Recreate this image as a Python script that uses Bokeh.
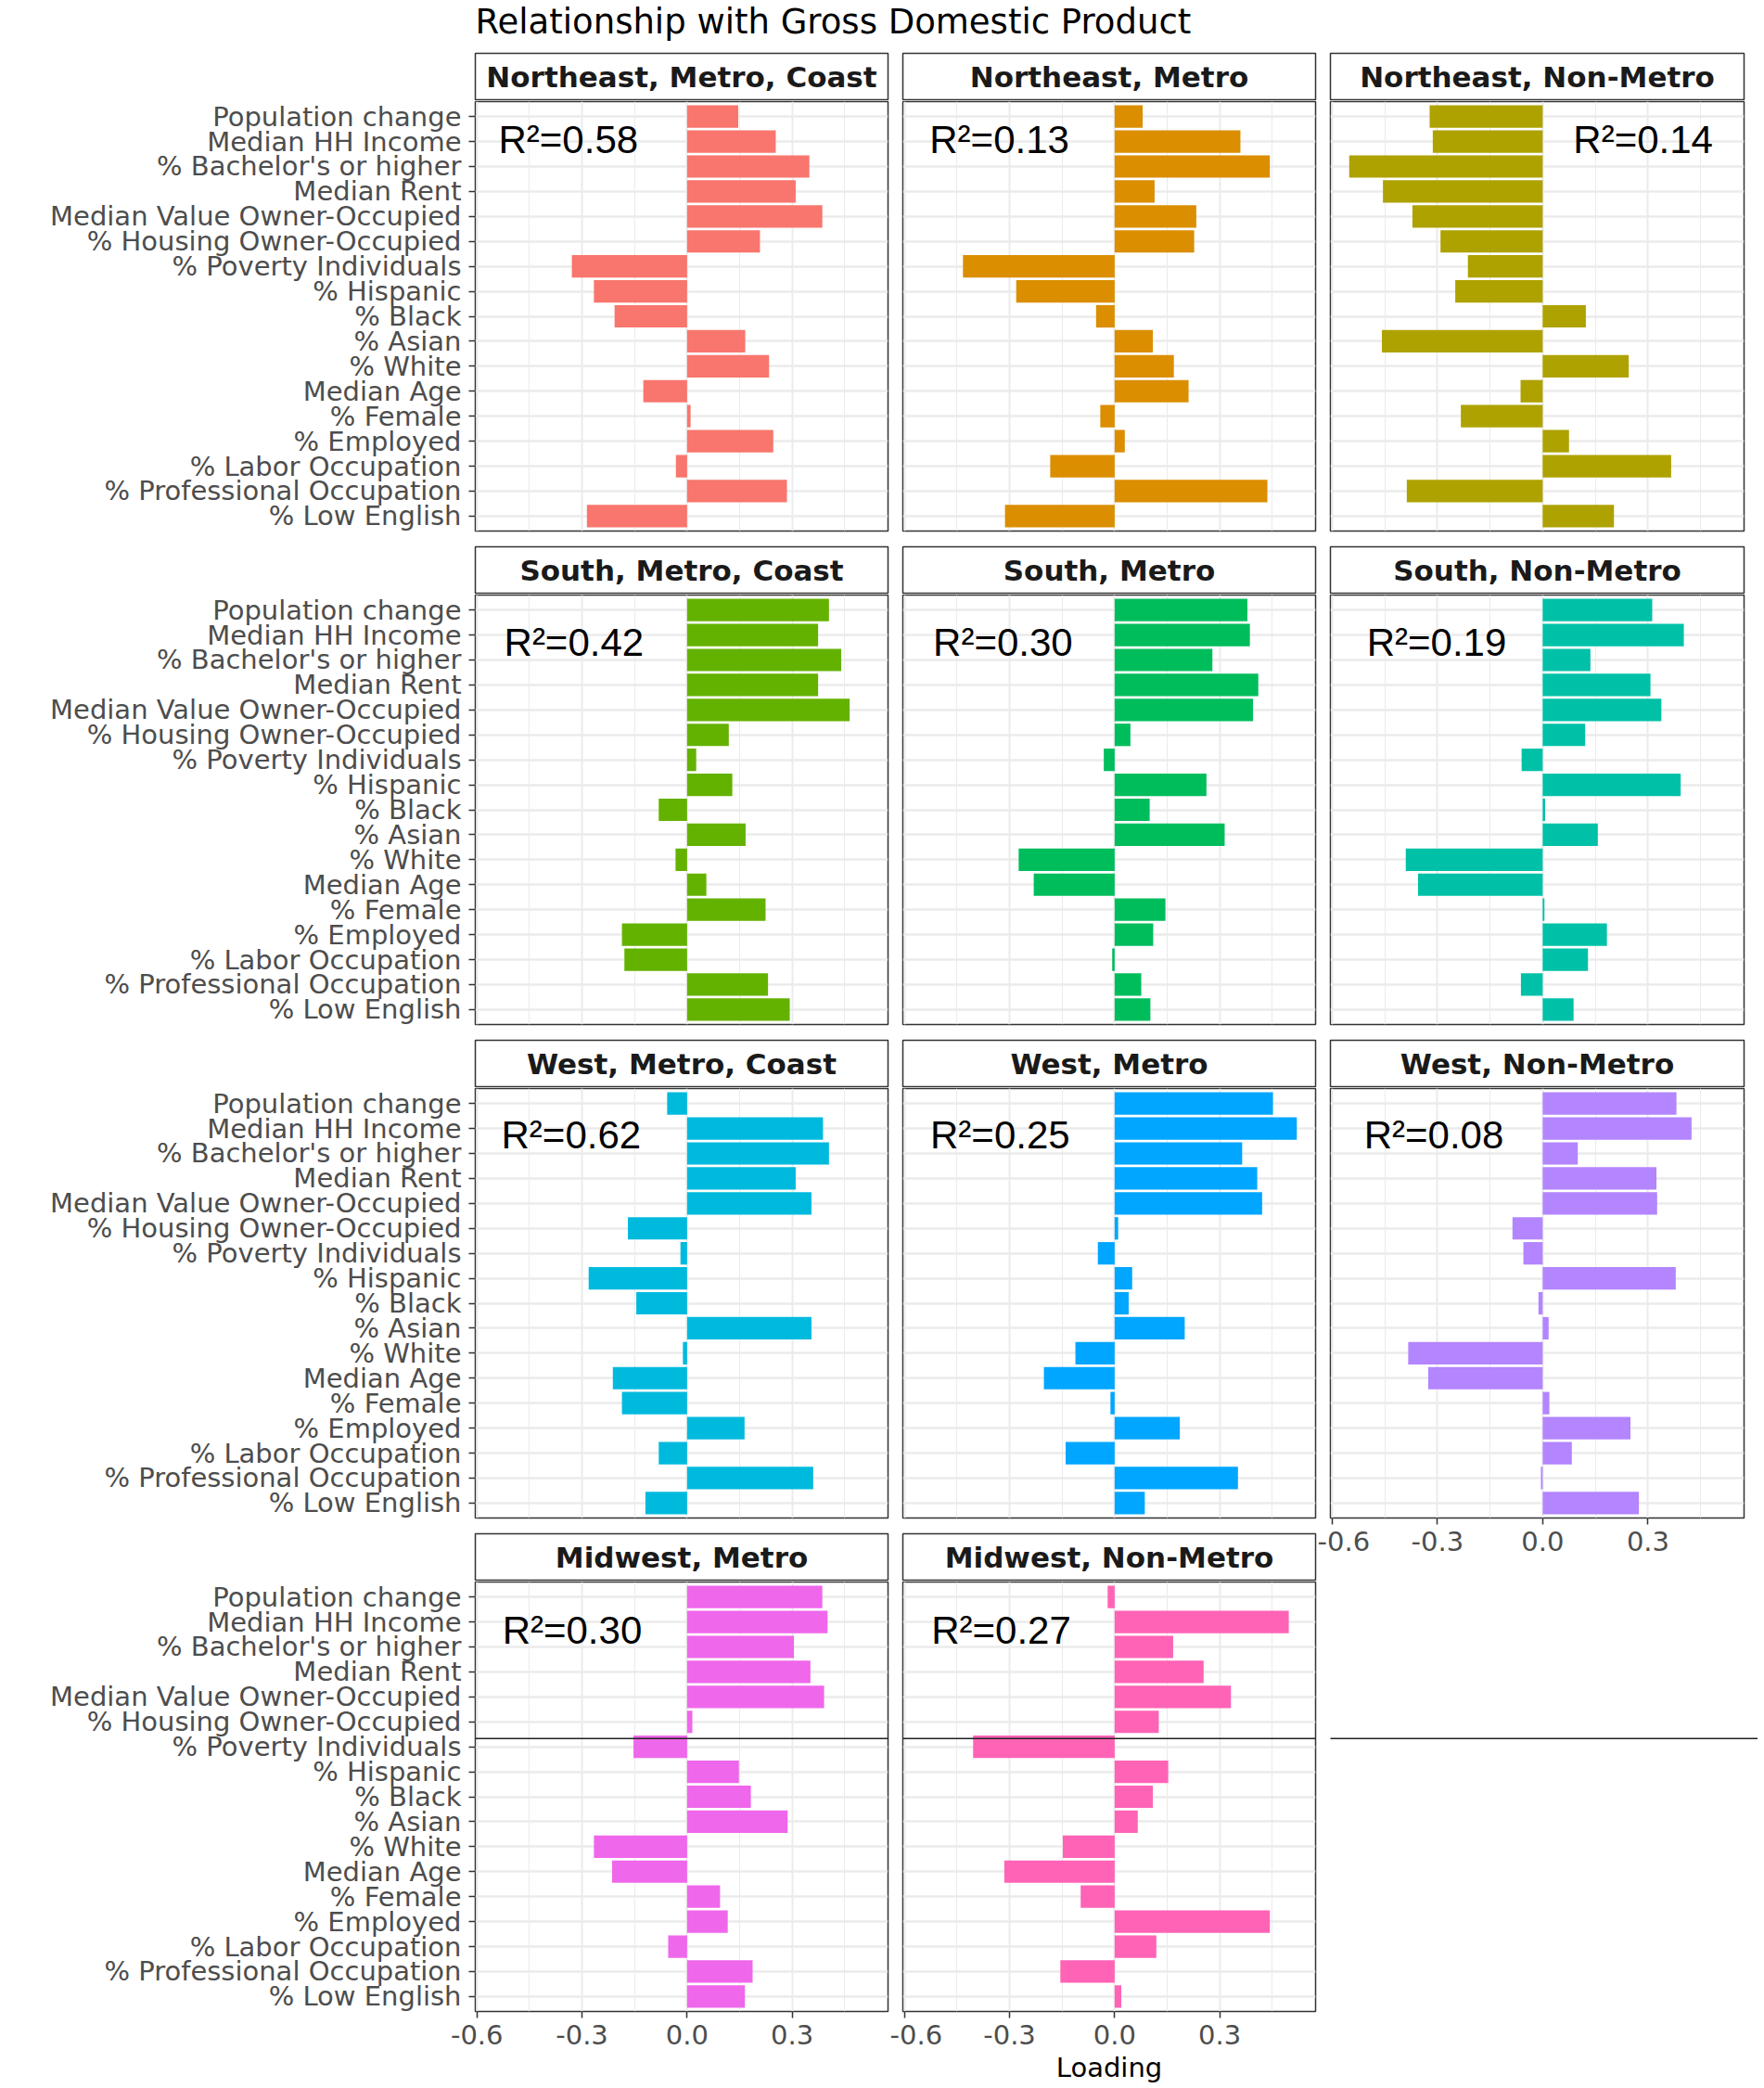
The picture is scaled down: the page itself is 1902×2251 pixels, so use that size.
from bokeh.plotting import figure
from bokeh.models import Range1d, FactorRange, FixedTicker, NumeralTickFormatter, BoxAnnotation
from bokeh.layouts import column, row
from bokeh.embed import file_html
from bokeh.resources import INLINE
from bokeh.core.properties import value

# ---------------- data ----------------
title_text = "Relationship with Gross Domestic Product"
x_label = "Loading"

categories = ["Population change", "Median HH Income", "% Bachelor's or higher",
              "Median Rent", "Median Value Owner-Occupied", "% Housing Owner-Occupied",
              "% Poverty Individuals", "% Hispanic", "% Black", "% Asian", "% White",
              "Median Age", "% Female", "% Employed", "% Labor Occupation",
              "% Professional Occupation", "% Low English"]

panel_names = ["Northeast, Metro, Coast", "Northeast, Metro", "Northeast, Non-Metro",
               "South, Metro, Coast", "South, Metro", "South, Non-Metro",
               "West, Metro, Coast", "West, Metro", "West, Non-Metro",
               "Midwest, Metro", "Midwest, Non-Metro"]

ne_metro_coast = [0.146, 0.253, 0.349, 0.310, 0.386, 0.208, -0.329, -0.266, -0.207, 0.166, 0.234, -0.125, 0.010, 0.246, -0.032, 0.285, -0.286]
ne_metro       = [0.080, 0.359, 0.443, 0.114, 0.233, 0.227, -0.433, -0.281, -0.053, 0.109, 0.169, 0.211, -0.041, 0.029, -0.184, 0.436, -0.313]
ne_nonmetro    = [-0.322, -0.313, -0.551, -0.455, -0.371, -0.291, -0.213, -0.249, 0.123, -0.458, 0.245, -0.063, -0.233, 0.075, 0.366, -0.387, 0.203]
s_metro_coast  = [0.405, 0.374, 0.440, 0.374, 0.464, 0.119, 0.026, 0.129, -0.081, 0.167, -0.033, 0.055, 0.224, -0.186, -0.179, 0.231, 0.293]
s_metro        = [0.379, 0.386, 0.279, 0.410, 0.395, 0.045, -0.031, 0.262, 0.100, 0.314, -0.274, -0.231, 0.145, 0.110, -0.007, 0.076, 0.102]
s_nonmetro     = [0.312, 0.402, 0.136, 0.307, 0.338, 0.121, -0.060, 0.393, 0.007, 0.157, -0.390, -0.355, 0.005, 0.183, 0.129, -0.062, 0.088]
w_metro_coast  = [-0.057, 0.388, 0.405, 0.310, 0.355, -0.169, -0.019, -0.281, -0.145, 0.355, -0.012, -0.212, -0.186, 0.164, -0.081, 0.360, -0.119]
w_metro        = [0.452, 0.520, 0.364, 0.407, 0.421, 0.010, -0.048, 0.050, 0.040, 0.200, -0.112, -0.202, -0.012, 0.186, -0.140, 0.352, 0.086]
w_nonmetro     = [0.381, 0.424, 0.100, 0.324, 0.326, -0.086, -0.055, 0.379, -0.012, 0.017, -0.383, -0.326, 0.019, 0.250, 0.083, -0.005, 0.274]
mw_metro       = [0.386, 0.401, 0.305, 0.352, 0.391, 0.015, -0.153, 0.148, 0.182, 0.287, -0.266, -0.214, 0.094, 0.116, -0.054, 0.187, 0.165]
mw_nonmetro    = [-0.020, 0.497, 0.167, 0.254, 0.332, 0.126, -0.404, 0.153, 0.109, 0.066, -0.148, -0.315, -0.097, 0.443, 0.119, -0.155, 0.019]

panel_values = [ne_metro_coast, ne_metro, ne_nonmetro, s_metro_coast, s_metro, s_nonmetro,
                w_metro_coast, w_metro, w_nonmetro, mw_metro, mw_nonmetro]

r2_labels = ["0.58", "0.13", "0.14", "0.42", "0.30", "0.19", "0.62", "0.25", "0.08", "0.30", "0.27"]
r2_x = [-0.339, -0.329, 0.286, -0.323, -0.319, -0.302, -0.331, -0.327, -0.310, -0.328, -0.324]
r2_dy = [-2, -2, -2, 8, 8, 8, 7, 7, 7, 9, 9]

major_ticks = [-0.6, -0.3, 0.0, 0.3]
minor_ticks = [-0.45, -0.15, 0.15, 0.45]

colors = ["#F8766D", "#DB8E00", "#AEA200", "#64B200", "#00BD5C", "#00C1A7",
          "#00BADE", "#00A6FF", "#B385FF", "#EF67EB", "#FF63B6"]

# ---------------- styling ----------------
FONT = "DejaVu Sans"
R2_FONT = "Liberation Sans"
FRAME_W = [445, 445, 446]
LEFT_B = [512, 14, 14]
RIGHT_B = 2
STRIP_H = 50
PANEL_H = 463
GAP = 16
TITLE_H = 56
AXIS_TXT = "#4D4D4D"
DARK = "#333333"
GRID = "#EBEBEB"
SCAN_Y = 1873          # page y of the horizontal scan line seen in the picture
SCAN_COLOR = "#222222"

all_vals = [v for vals in panel_values for v in vals]
lo, hi = min(all_vals), max(all_vals)
pad = 0.05 * (hi - lo)
x_rng = Range1d(lo - pad, hi + pad)


def base_fig(frame_w, frame_h, left, right=RIGHT_B, top=1, bottom=1, **kw):
    p = figure(frame_width=frame_w, frame_height=frame_h,
               min_border_left=left, min_border_right=right,
               min_border_top=top, min_border_bottom=bottom,
               toolbar_location=None, output_backend="svg", **kw)
    p.background_fill_color = "white"
    p.border_fill_color = "white"
    return p


def scan_line(p, top_px):
    p.add_layout(BoxAnnotation(left=0, right=4000, top=top_px, bottom=top_px + 1.6,
                               left_units="canvas", right_units="canvas",
                               top_units="canvas", bottom_units="canvas",
                               fill_color=SCAN_COLOR, fill_alpha=1.0, line_color=None,
                               level="overlay"))


def make_strip(label, col):
    p = base_fig(FRAME_W[col], STRIP_H, LEFT_B[col],
                 x_range=Range1d(0, 1), y_range=Range1d(0, 1),
                 x_axis_location=None, y_axis_location=None)
    p.grid.visible = False
    p.outline_line_color = DARK
    p.outline_line_width = 1.5
    p.text(x=[0.5], y=[0.5], text=[label], text_align="center", text_baseline="middle",
           text_font=value(FONT), text_font_style="bold", text_font_size="31px",
           text_color="#1A1A1A")
    return p


def make_panel(i, col, show_x, xlabel=None, bottom=None):
    vals = panel_values[i]
    if bottom is None:
        bottom = 0 if show_x else GAP
    p = base_fig(FRAME_W[col], PANEL_H, LEFT_B[col], bottom=bottom,
                 x_range=x_rng,
                 y_range=FactorRange(factors=list(reversed(categories)),
                                     range_padding=0.1, range_padding_units="absolute"),
                 x_axis_location="below" if show_x else None,
                 y_axis_location="left" if col == 0 else None)
    p.outline_line_color = DARK
    p.outline_line_width = 1.5

    tick = FixedTicker(ticks=major_ticks, minor_ticks=minor_ticks)
    p.xgrid.ticker = tick
    p.xgrid.grid_line_color = GRID
    p.xgrid.grid_line_width = 2
    p.xgrid.minor_grid_line_color = GRID
    p.xgrid.minor_grid_line_width = 1
    p.ygrid.grid_line_color = GRID
    p.ygrid.grid_line_width = 2.5

    p.hbar(y=categories, left=0, right=vals, height=0.9, fill_color=colors[i], line_color=None)

    p.text(x=[r2_x[i]], y=[categories[1]], text=["R²=" + r2_labels[i]],
           text_align="center", text_baseline="middle", y_offset=r2_dy[i],
           text_font=value(R2_FONT), text_font_size="42px", text_color="black")

    if show_x:
        ax = p.xaxis[0]
        ax.ticker = tick
        ax.formatter = NumeralTickFormatter(format="0.0")
        ax.major_label_text_font = FONT
        ax.major_label_text_font_size = "29px"
        ax.major_label_text_color = AXIS_TXT
        ax.major_tick_line_color = DARK
        ax.major_tick_line_width = 1.5
        ax.major_tick_out = 7
        ax.major_tick_in = 0
        ax.minor_tick_out = 0
        ax.minor_tick_in = 0
        ax.axis_line_color = None
        ax.major_label_standoff = 7
        if xlabel:
            ax.axis_label = xlabel
            ax.axis_label_text_font = FONT
            ax.axis_label_text_font_size = "29px"
            ax.axis_label_text_font_style = "normal"
            ax.axis_label_text_color = "black"
            ax.axis_label_standoff = 5
    if col == 0:
        ay = p.yaxis[0]
        ay.major_label_text_font = FONT
        ay.major_label_text_font_size = "29px"
        ay.major_label_text_color = AXIS_TXT
        ay.major_tick_line_color = DARK
        ay.major_tick_line_width = 1.5
        ay.major_tick_out = 7
        ay.major_tick_in = 0
        ay.axis_line_color = None
        ay.major_label_standoff = 8
    return p


# grid positions: (panel index, column, row)
layout_cells = [(0, 0, 0), (1, 1, 0), (2, 2, 0),
                (3, 0, 1), (4, 1, 1), (5, 2, 1),
                (6, 0, 2), (7, 1, 2), (8, 2, 2),
                (9, 0, 3), (10, 1, 3)]

last_row = {}
for i, c, r in layout_cells:
    last_row[c] = max(last_row.get(c, -1), r)

ROW_PITCH = (STRIP_H + 2) + (1 + PANEL_H + GAP)
cols = {0: [], 1: [], 2: []}
for i, c, r in layout_cells:
    is_last = (r == last_row[c])
    cols[c].append(make_strip(panel_names[i], c))
    if is_last and r < 3:
        # axis under a panel whose cell below is empty; fixed border so the spacer lines up
        p = make_panel(i, c, True, bottom=60)
        cols[c].append(p)
        spacer_top = TITLE_H + r * ROW_PITCH + (STRIP_H + 2) + 1 + PANEL_H + 60
        sp_w = LEFT_B[c] + FRAME_W[c] + 15
        sp = base_fig(sp_w, 300, 0, right=0, top=0, bottom=0,
                      x_range=Range1d(0, 1), y_range=Range1d(0, 1),
                      x_axis_location=None, y_axis_location=None)
        sp.grid.visible = False
        sp.outline_line_color = None
        scan_line(sp, SCAN_Y - spacer_top)
        cols[c].append(sp)
    else:
        bottom = None
        if is_last and c == 0:
            bottom = 75
        p = make_panel(i, c, is_last, xlabel=x_label if (is_last and c == 1) else None,
                       bottom=bottom)
        if r == 3:
            fig_top = TITLE_H + r * ROW_PITCH + (STRIP_H + 2)
            scan_line(p, SCAN_Y - fig_top)
        cols[c].append(p)

total_w = sum(LEFT_B) + sum(FRAME_W) + 3 * RIGHT_B
tp = figure(frame_width=total_w, frame_height=TITLE_H, min_border=0, title=None,
            x_range=Range1d(0, total_w), y_range=Range1d(0, TITLE_H),
            x_axis_location=None, y_axis_location=None,
            toolbar_location=None, output_backend="svg")
tp.grid.visible = False
tp.outline_line_color = None
tp.background_fill_color = "white"
tp.border_fill_color = "white"
tp.text(x=[LEFT_B[0]], y=[TITLE_H - 23], text=[title_text], text_align="left", text_baseline="middle",
        text_font=value(FONT), text_font_size="37px", text_color="black")

layout = column(tp, row(column(*cols[0]), column(*cols[1]), column(*cols[2])))

open("out.html", "w").write(file_html(layout, INLINE))
